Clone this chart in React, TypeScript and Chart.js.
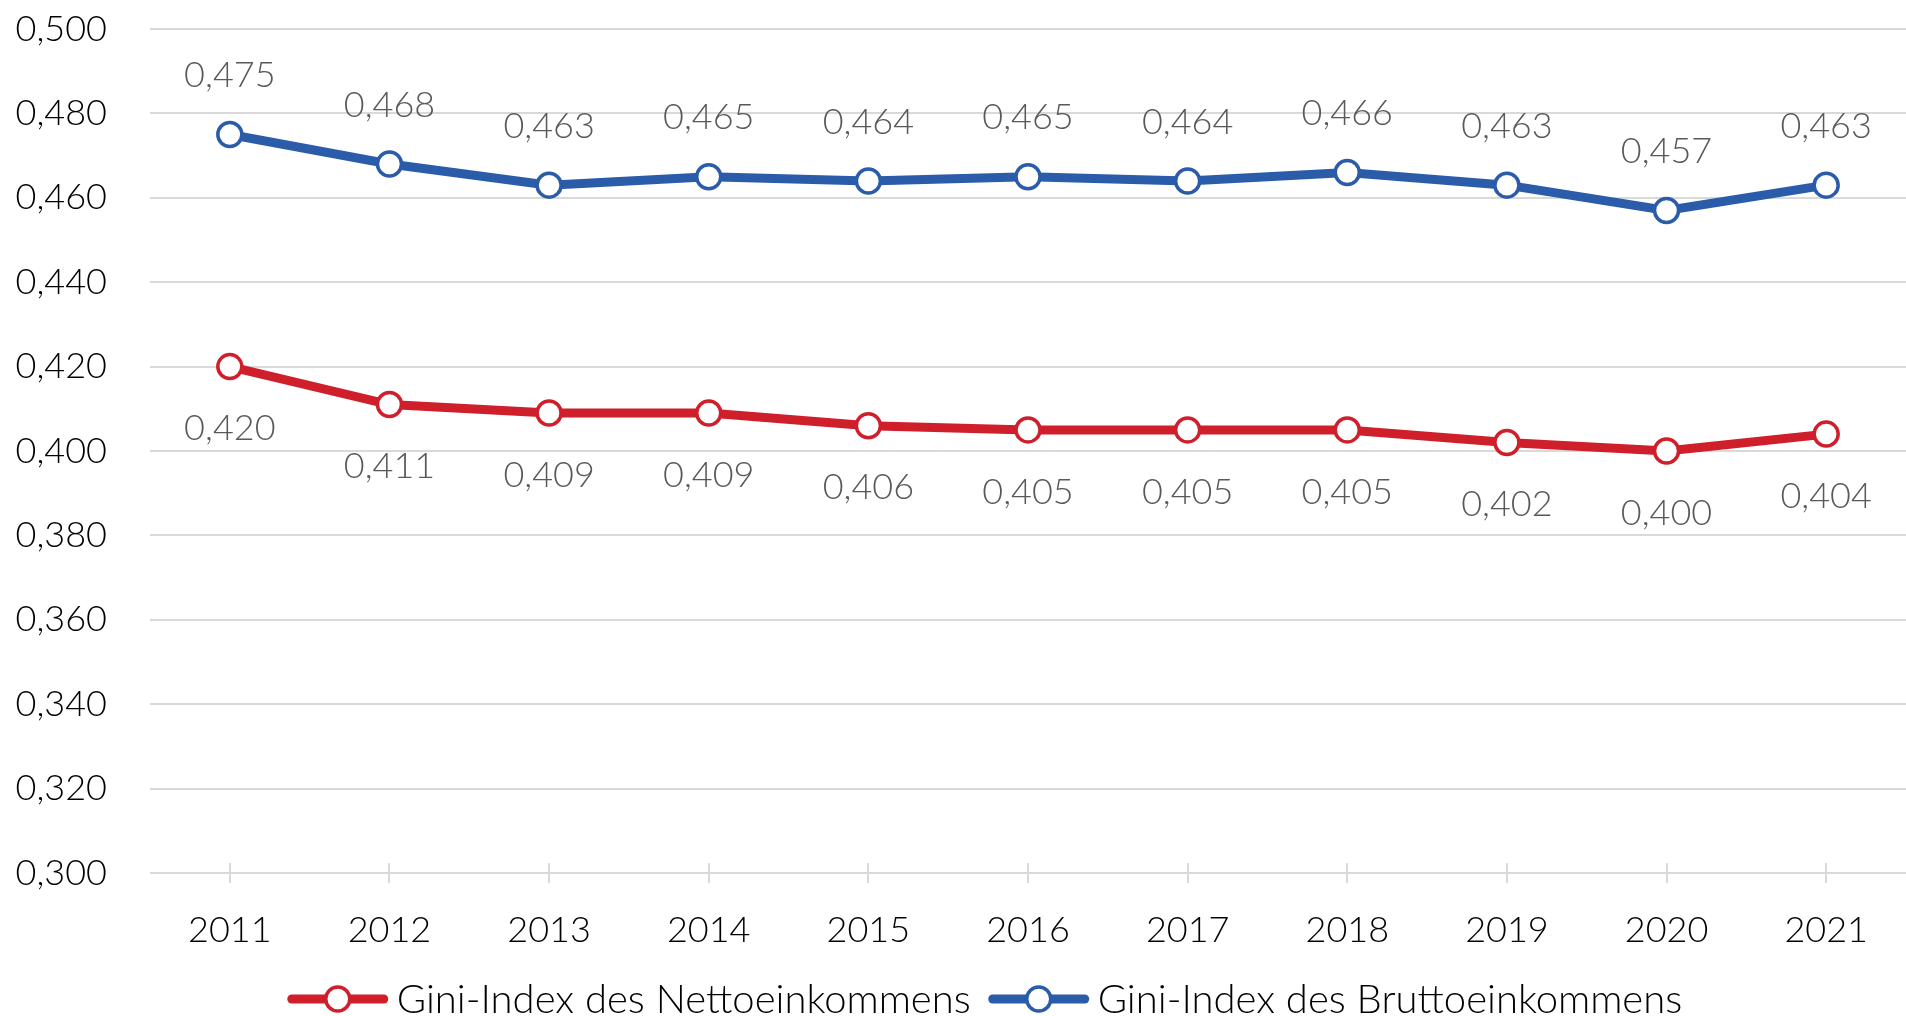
import React, { useEffect, useRef } from "react";
import { Chart, registerables } from "chart.js";

Chart.register(...registerables);

const years = ["2011", "2012", "2013", "2014", "2015", "2016", "2017", "2018", "2019", "2020", "2021"];
const nettoValues = [0.42, 0.411, 0.409, 0.409, 0.406, 0.405, 0.405, 0.405, 0.402, 0.4, 0.404];
const bruttoValues = [0.475, 0.468, 0.463, 0.465, 0.464, 0.465, 0.464, 0.466, 0.463, 0.457, 0.463];
const seriesNames = ["Gini-Index des Nettoeinkommens", "Gini-Index des Bruttoeinkommens"];
const yMin = 0.3;
const yMax = 0.5;
const yStep = 0.02;

const RED = "#CF1F2B";
const BLUE = "#2A5CAA";
const GRID = "#D9D9D9";
const FONT = "Lato";
const FS = 36;
const LEGEND_FS = 40;
const WEIGHT = "300";
const LINE_W = 9;
const PT_R = 12;
const PT_BW = 3.5;

const fmt = (v: number) => Number(v).toFixed(3).replace(".", ",");

const labelPlugin = {
  id: "valueLabels",
  afterDatasetsDraw(chart: any) {
    const ctx = chart.ctx;
    ctx.save();
    ctx.font = `${WEIGHT} ${FS}px ${FONT}`;
    ctx.fillStyle = "#595959";
    ctx.textAlign = "center";
    ctx.textBaseline = "middle";
    chart.data.datasets.forEach((ds: any, i: number) => {
      const meta = chart.getDatasetMeta(i);
      const off = i === 0 ? 62 : -59;
      meta.data.forEach((pt: any, j: number) => {
        ctx.fillText(fmt(ds.data[j]), pt.x, pt.y + off);
      });
    });
    ctx.restore();
  },
};

const xTickPlugin = {
  id: "xTicks",
  beforeDatasetsDraw(chart: any) {
    const ctx = chart.ctx;
    const xs = chart.scales.x;
    const bottom = chart.chartArea.bottom;
    ctx.save();
    ctx.strokeStyle = GRID;
    ctx.lineWidth = 2;
    years.forEach((_, i) => {
      const x = Math.round(xs.getPixelForValue(i));
      ctx.beginPath();
      ctx.moveTo(x, bottom - 10);
      ctx.lineTo(x, bottom + 10);
      ctx.stroke();
    });
    ctx.restore();
  },
};

const legendPlugin = {
  id: "customLegend",
  afterDraw(chart: any) {
    const ctx = chart.ctx;
    ctx.save();
    ctx.font = `${WEIGHT} ${LEGEND_FS}px ${FONT}`;
    const colors = [RED, BLUE];
    const lineW = 100;
    const gapText = 9;
    const gapItem = 18;
    const widths = seriesNames.map((n) => ctx.measureText(n).width);
    const total = widths.reduce((a, b) => a + b, 0) + 2 * (lineW + gapText) + gapItem;
    let x = 985 - total / 2;
    const y = 999;
    seriesNames.forEach((name, i) => {
      ctx.strokeStyle = colors[i];
      ctx.lineWidth = LINE_W;
      ctx.lineCap = "round";
      ctx.beginPath();
      ctx.moveTo(x + 4, y);
      ctx.lineTo(x + lineW - 4, y);
      ctx.stroke();
      ctx.beginPath();
      ctx.arc(x + lineW / 2, y, PT_R, 0, Math.PI * 2);
      ctx.fillStyle = "#fff";
      ctx.fill();
      ctx.lineWidth = PT_BW;
      ctx.stroke();
      ctx.fillStyle = "#000";
      ctx.textAlign = "left";
      ctx.textBaseline = "middle";
      ctx.fillText(name, x + lineW + gapText, y + 1);
      x += lineW + gapText + widths[i] + gapItem;
    });
    ctx.restore();
  },
};

export default function App() {
  const ref = useRef<HTMLCanvasElement>(null);
  useEffect(() => {
    const mk = (label: string, data: number[], color: string) => ({
      label,
      data,
      borderColor: color,
      backgroundColor: color,
      borderWidth: LINE_W,
      pointRadius: PT_R,
      pointBorderWidth: PT_BW,
      pointBackgroundColor: "#fff",
      pointBorderColor: color,
      tension: 0,
      clip: false,
    });
    const chart = new Chart(ref.current as HTMLCanvasElement, {
      type: "line",
      data: {
        labels: years,
        datasets: [mk(seriesNames[0], nettoValues, RED), mk(seriesNames[1], bruttoValues, BLUE)],
      },
      options: {
        animation: false,
        responsive: true,
        maintainAspectRatio: false,
        layout: { autoPadding: false, padding: { top: 29, right: 0, bottom: 50, left: 0 } },
        plugins: { legend: { display: false }, tooltip: { enabled: false } },
        scales: {
          x: {
            offset: true,
            grid: { display: false, drawTicks: false },
            border: { display: false },
            ticks: { color: "#000", font: { family: FONT, size: FS, weight: WEIGHT }, padding: 36, maxRotation: 0, autoSkip: false },
            afterFit: (s: any) => {
              s.height = 93;
              s.paddingLeft = 0;
              s.paddingRight = 0;
            },
          },
          y: {
            min: yMin,
            max: yMax,
            ticks: {
              stepSize: yStep,
              color: "#000",
              font: { family: FONT, size: FS, weight: WEIGHT },
              padding: 43,
              callback: (v: any) => fmt(v),
            },
            grid: { color: GRID, lineWidth: 2, drawTicks: false },
            border: { display: false },
            afterFit: (s: any) => {
              s.width = 150;
              s.paddingTop = 0;
              s.paddingBottom = 0;
            },
          },
        },
      } as any,
      plugins: [labelPlugin, xTickPlugin, legendPlugin],
    });
    return () => chart.destroy();
  }, []);
  return (
    <div style={{ position: "fixed", left: 0, top: 0, width: "1906px", height: "1016px", background: "#fff" }}>
      <canvas ref={ref} />
    </div>
  );
}
